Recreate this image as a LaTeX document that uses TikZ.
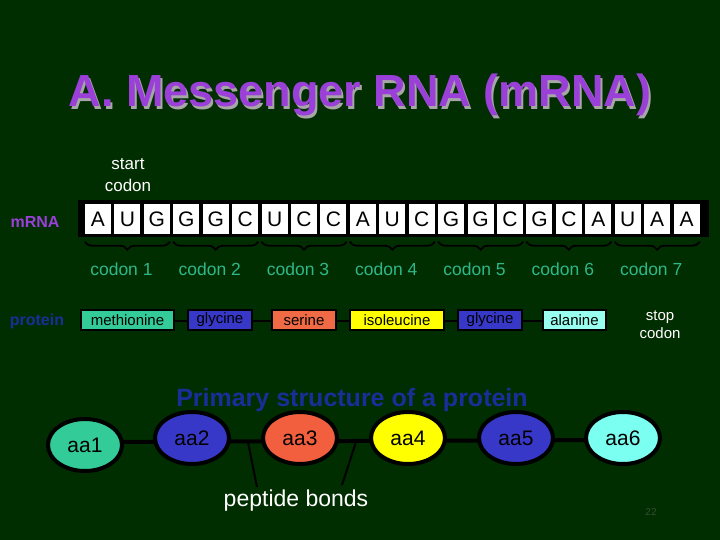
\documentclass[tikz,border=0pt]{standalone}
\usepackage{fontspec}
\setmainfont{Liberation Sans}
\usetikzlibrary{decorations.pathreplacing,calc,shapes.geometric}
\definecolor{bg}{HTML}{002E00}
\definecolor{ttl}{HTML}{9A3FD8}
\definecolor{cod}{HTML}{2EB88A}
\definecolor{pblue}{HTML}{1A2E99}
\definecolor{teal}{HTML}{33CC99}
\definecolor{gly}{HTML}{3838C8}
\definecolor{ser}{HTML}{F06A45}
\definecolor{iso}{HTML}{FFFF00}
\definecolor{ala}{HTML}{99FFEE}
\tikzset{
  base/.style={inner sep=0pt},
  letter/.style={fill=white,minimum width=26pt,minimum height=29pt,inner sep=0pt,font=\fontsize{21}{22}\selectfont},
  aabox/.style={draw=black,line width=1.5pt,minimum height=20pt,inner sep=1pt,font=\fontsize{15}{16}\selectfont},
  aa/.style={ellipse,draw=black,line width=4pt,minimum width=74pt,minimum height=52pt,inner sep=0pt,font=\fontsize{21}{22}\selectfont},
  lbl/.style={font=\bfseries\fontsize{16}{18}\selectfont}
}
\begin{document}
\begin{tikzpicture}[x=1pt,y=-1pt]
\fill[bg] (0,0) rectangle (720,540);
\useasboundingbox (0,0) rectangle (720,540);
\fill[gray!70] (362,98) node[base,font=\bfseries\fontsize{45}{48}\selectfont,text=gray!70] {A. Messenger RNA (mRNA)};
\node[base,text=ttl,font=\bfseries\fontsize{45}{48}\selectfont] (title) at (360,95) {A. Messenger RNA (mRNA)};
\node[base,text=white,align=center,font=\fontsize{17}{22}\selectfont] (start) at (128,175) {start\\codon};
\node[base,text=ttl,lbl] (mrna) at (35,222) {mRNA};
\node[fill=black,minimum width=631pt,minimum height=37pt,inner sep=0pt] (strip) at (393.5,218.5) {};
\foreach \l [count=\k] in {A,U,G,G,G,C,U,C,C,A,U,C,G,G,C,G,C,A,U,A,A}{
  \node[letter] (b\k) at ({85+29.43*(\k-1)+13},219) {\l};
}
\foreach \i in {1,...,7}{
  \pgfmathtruncatemacro\a{3*\i-2}\pgfmathtruncatemacro\c{3*\i}\pgfmathtruncatemacro\m{3*\i-1}
  \draw[black,line width=1.8pt,decorate,decoration={brace,amplitude=8pt,mirror}] ($(b\a.south west)+(0,8)$) -- ($(b\c.south east)+(0,8)$);
  \node[base,text=cod,font=\fontsize{17.5}{18}\selectfont] (c\i) at ($(b\m)+(-6,50)$) {codon \i};
}
\node[base,text=pblue,lbl] (prot) at (37,321) {protein};
\draw[black,line width=2pt] (174,321) -- (543,321);
\node[aabox,fill=teal,minimum width=93pt] (p1) at (127.5,320) {methionine};
\node[aabox,fill=gly,minimum width=64pt] (p2) at (220,320) {glycine};
\node[aabox,fill=ser,minimum width=64pt] (p3) at (304,320) {serine};
\node[aabox,fill=iso,minimum width=94pt] (p4) at (397,320) {isoleucine};
\node[aabox,fill=gly,minimum width=64pt] (p5) at (490,320) {glycine};
\node[aabox,fill=ala,minimum width=63pt] (p6) at (574.5,320) {alanine};
\node[base,text=white,align=center,font=\fontsize{15}{18}\selectfont] (stop) at (660,325) {stop\\codon};
\node[base,text=pblue,font=\bfseries\fontsize{25}{28}\selectfont] (prim) at (352,400) {Primary structure of a protein};
\draw[black,line width=4pt] (85,442) -- (623,440);
\node[aa,fill=teal] (a1) at (85,445) {aa1};
\node[aa,fill=gly] (a2) at (192,438) {aa2};
\node[aa,fill=ser!90!red] (a3) at (300,438) {aa3};
\node[aa,fill=iso] (a4) at (408,438) {aa4};
\node[aa,fill=gly] (a5) at (516,438) {aa5};
\node[aa,fill=ala!80!cyan] (a6) at (623,438) {aa6};
\node[base,text=white,font=\fontsize{23}{24}\selectfont] (pb) at (296,501) {peptide bonds};
\coordinate (q1) at (248,442);\coordinate (q2) at (356,442);
\draw[black,line width=2pt] (q1) -- (257,487);
\draw[black,line width=2pt] (q2) -- (342,485);
\node[base,text=bg!60!gray,font=\fontsize{10}{12}\selectfont] (pg) at (651,512) {22};
\end{tikzpicture}
\end{document}
